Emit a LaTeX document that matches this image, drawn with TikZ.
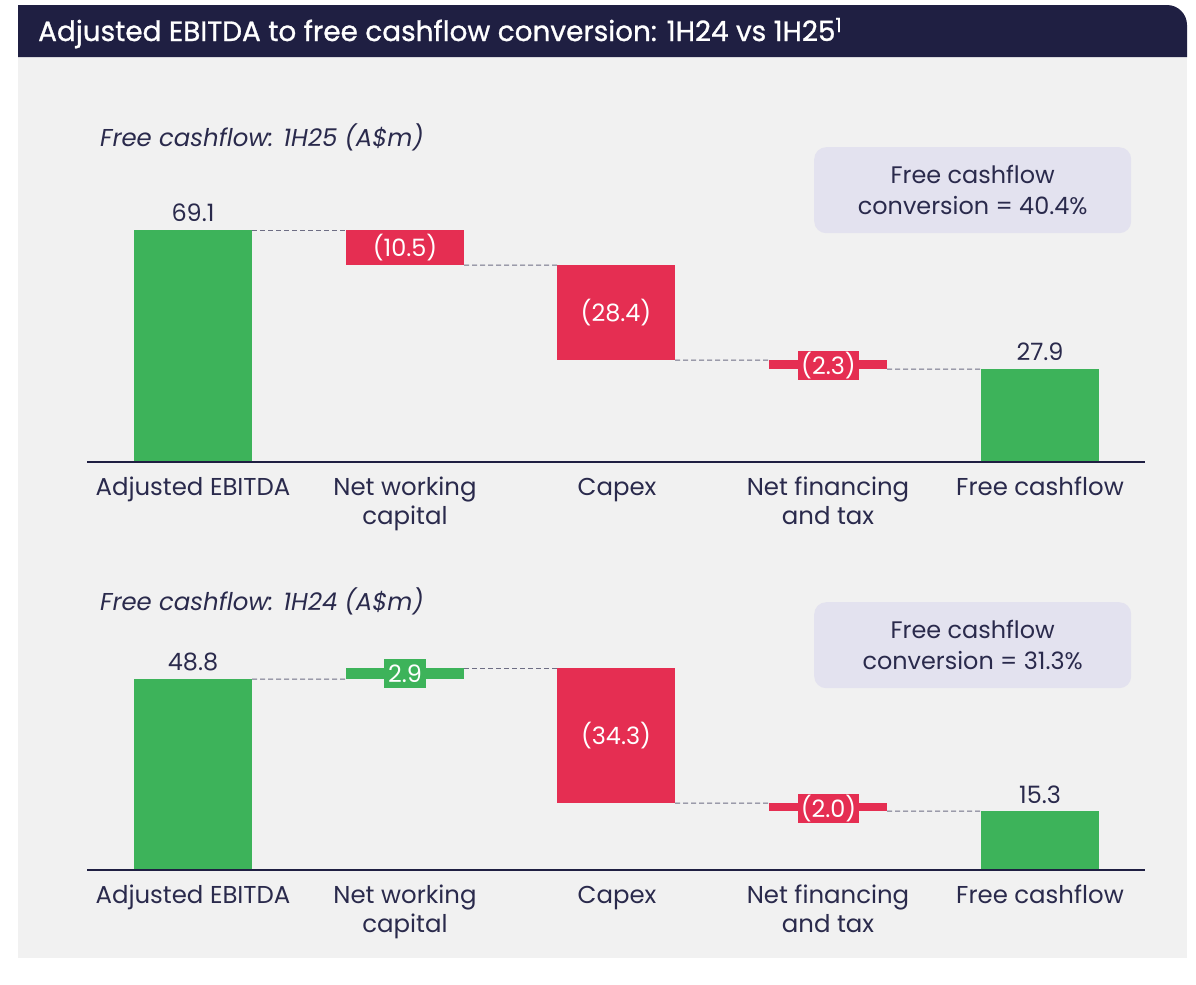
\documentclass[tikz,border=0pt]{standalone}
\usepackage{fontspec}
\setmainfont{Poppins}
\newfontfamily\titlefont[FakeBold=1]{Poppins}
\definecolor{navy}{HTML}{1F1F42}
\definecolor{ink}{HTML}{2A2A4C}
\definecolor{panel}{HTML}{F1F1F1}
\definecolor{gbar}{HTML}{3DB35A}
\definecolor{rbar}{HTML}{E52E52}
\definecolor{convbox}{HTML}{E3E2EF}
\definecolor{dashc}{HTML}{6E6E84}
\begin{document}
\begin{tikzpicture}[x=1bp,y=-1bp,
  bar/.style={inner sep=0pt, outer sep=0pt, minimum width=118bp, anchor=north west, text=white, font=\fontsize{24}{28}\selectfont},
  gb/.style={bar, fill=gbar},
  rb/.style={bar, fill=rbar},
  tag/.style={inner sep=0pt, outer sep=0pt, anchor=north west, text=white, font=\fontsize{24}{28}\selectfont},
  val/.style={text=ink, anchor=base, inner sep=0pt, font=\fontsize{24}{28}\selectfont},
  cat/.style={text=ink, anchor=base, inner sep=0pt, align=center, font=\fontsize{24.5}{29}\selectfont},
  ctitle/.style={text=ink, anchor=base west, inner sep=0pt, font=\fontsize{24.5}{28}\selectfont\itshape},
  conv/.style={fill=convbox, rounded corners=12bp, minimum width=317bp, minimum height=86bp, anchor=north west, inner sep=0pt, text=ink, align=center, font=\fontsize{24}{31}\selectfont},
  link/.style={draw=dashc, line width=1bp, dash pattern=on 5bp off 3bp},
  axis/.style={draw=navy, line width=2bp}
]
\useasboundingbox (0,0) rectangle (1196,985);
\fill[white] (0,0) rectangle (1196,985);
% panel and title
\fill[panel] (18,57) rectangle (1187,958);
\fill[navy] (18,57) -- (18,5) -- (1167,5) arc[start angle=-90, end angle=0, radius=20] -- (1187,57) -- cycle;
\node[anchor=base west, inner sep=0pt, text=white, font=\fontsize{28}{32}\titlefont] (title) at (38,41) {Adjusted EBITDA to free cashflow conversion: 1H24 vs 1H25\textsuperscript{1}};

% ===== Upper chart: 1H25 =====
\node[ctitle] (t25) at (100,146) {Free cashflow: 1H25 (A\$m)};
\node[conv] (cv25) at (814,147) {Free cashflow\\conversion = 40.4\%};

\node[gb, minimum height=232bp] (e1) at (134,230) {};
\node[rb, minimum height=35bp] (n1) at (346,230) {(10.5)};
\node[rb, minimum height=95bp] (c1) at (557,265) {(28.4)};
\node[rb, minimum height=9bp] (t1) at (769,360) {};
\node[tag, fill=rbar, minimum width=61bp, minimum height=29bp] (t1l) at (798,351) {(2.3)};
\node[gb, minimum height=93bp] (f1) at (981,369) {};
\node[val] (e1v) at (193,221) {69.1};
\node[val] (f1v) at (1040,360) {27.9};

\coordinate (a1l) at (87,462);
\coordinate (a1r) at (1145,462);
\draw[axis] (a1l) -- (a1r);

\draw[link] (e1.north east) -- (n1.north west);
\draw[link] (n1.south east) -- (c1.north west);
\draw[link] (c1.south east) -- (t1.north west);
\draw[link] (t1.south east) -- (f1.north west);

\node[cat] (k1) at (193,495) {Adjusted EBITDA};
\node[cat] (k2) at (405,524) {Net working\\capital};
\node[cat] (k3) at (617,495) {Capex};
\node[cat] (k4) at (828,524) {Net financing\\and tax};
\node[cat] (k5) at (1040,495) {Free cashflow};

% ===== Lower chart: 1H24 =====
\node[ctitle] (t24) at (100,610) {Free cashflow: 1H24 (A\$m)};
\node[conv] (cv24) at (814,602) {Free cashflow\\conversion = 31.3\%};

\node[gb, minimum height=191bp] (e2) at (134,679) {};
\node[gb, minimum height=11bp] (n2) at (346,668) {};
\node[tag, fill=gbar, minimum width=42bp, minimum height=29bp] (n2l) at (384,659) {2.9};
\node[rb, minimum height=135bp] (c2) at (557,668) {(34.3)};
\node[rb, minimum height=8bp] (t2) at (769,803) {};
\node[tag, fill=rbar, minimum width=61bp, minimum height=29bp] (t2l) at (798,794) {(2.0)};
\node[gb, minimum height=59bp] (f2) at (981,811) {};
\node[val] (e2v) at (193,670) {48.8};
\node[val] (f2v) at (1040,803) {15.3};

\coordinate (a2l) at (87,870);
\coordinate (a2r) at (1145,870);
\draw[axis] (a2l) -- (a2r);

\draw[link] (e2.north east) -- (n2.south west);
\draw[link] (n2.north east) -- (c2.north west);
\draw[link] (c2.south east) -- (t2.north west);
\draw[link] (t2.south east) -- (f2.north west);

\node[cat] (m1) at (193,903) {Adjusted EBITDA};
\node[cat] (m2) at (405,932) {Net working\\capital};
\node[cat] (m3) at (617,903) {Capex};
\node[cat] (m4) at (828,932) {Net financing\\and tax};
\node[cat] (m5) at (1040,903) {Free cashflow};
\end{tikzpicture}
\end{document}
